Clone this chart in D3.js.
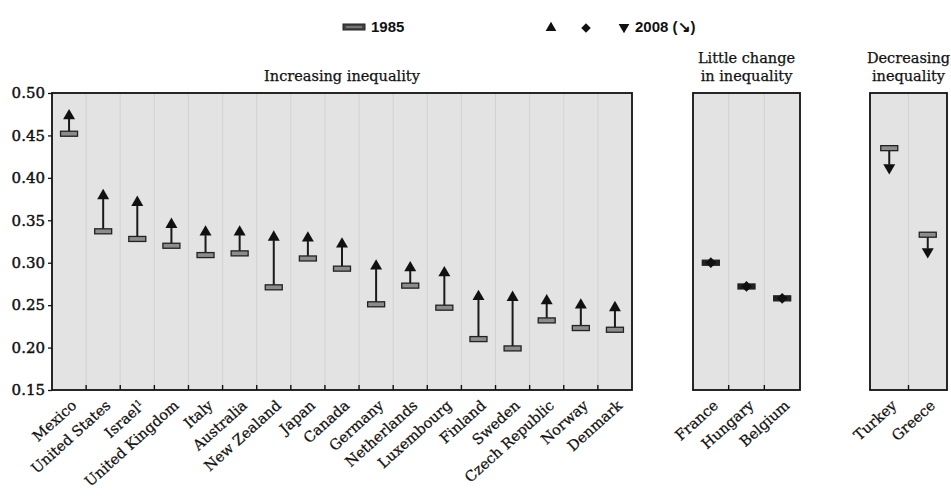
<!DOCTYPE html>
<html>
<head>
<meta charset="utf-8">
<script src="https://cdn.jsdelivr.net/npm/d3@7"></script>
<style>
  body { margin: 0; background: #fff; }
  svg text { font-family: "DejaVu Serif", serif; fill: #111; stroke: #111; stroke-width: 0.25px; }
</style>
</head>
<body>
<svg id="chart" width="951" height="498"></svg>
<script>
// Gini coefficients, mid-1980s and late 2000s
const increasingCountries = ["Mexico", "United States", "Israel", "United Kingdom", "Italy", "Australia",
  "New Zealand", "Japan", "Canada", "Germany", "Netherlands", "Luxembourg", "Finland", "Sweden",
  "Czech Republic", "Norway", "Denmark"];
const increasing1985 = [0.452, 0.337, 0.328, 0.320, 0.309, 0.311, 0.271, 0.305, 0.293, 0.251, 0.273,
  0.247, 0.210, 0.199, 0.232, 0.223, 0.221];
const increasing2008 = [0.473, 0.379, 0.371, 0.345, 0.336, 0.336, 0.330, 0.329, 0.322, 0.296, 0.294,
  0.288, 0.260, 0.259, 0.255, 0.250, 0.247];

const littleCountries = ["France", "Hungary", "Belgium"];
const little1985 = [0.300, 0.272, 0.258];
const little2008 = [0.300, 0.272, 0.258];

const decreasingCountries = ["Turkey", "Greece"];
const decreasing1985 = [0.435, 0.333];
const decreasing2008 = [0.412, 0.313];

const yTicks = [0.15, 0.20, 0.25, 0.30, 0.35, 0.40, 0.45, 0.50];

const svg = d3.select('#chart');
const y = d3.scaleLinear().domain([0.15, 0.50]).range([390, 93]);

const panels = [
  { title: ["Increasing inequality"], x0: 52, x1: 632, names: increasingCountries, v0: increasing1985, v1: increasing2008, kind: 'up', axis: true },
  { title: ["Little change", "in inequality"], x0: 693, x1: 800, names: littleCountries, v0: little1985, v1: little2008, kind: 'same' },
  { title: ["Decreasing", "inequality"], x0: 870, x1: 947, names: decreasingCountries, v0: decreasing1985, v1: decreasing2008, kind: 'down' }
];

const tri = d3.symbol().type(d3.symbolTriangle).size(62);
const dia = d3.symbol().type(d3.symbolSquare).size(58);

function drawBar(g, cx, cy, dark) {
  g.append('rect')
    .attr('x', cx - 8.5).attr('y', cy - 2.5)
    .attr('width', 17).attr('height', 5)
    .attr('fill', dark ? '#222' : '#8c8c8c')
    .attr('stroke', '#222').attr('stroke-width', 1.3);
}

panels.forEach(p => {
  const x = d3.scaleBand().domain(p.names).range([p.x0, p.x1]);
  const g = svg.append('g');

  // panel background (scanned paper grey)
  g.append('rect')
    .attr('x', p.x0).attr('y', y(0.50))
    .attr('width', p.x1 - p.x0).attr('height', y(0.15) - y(0.50))
    .attr('fill', '#e3e3e3');

  // faint vertical separators + bottom ticks between categories
  p.names.slice(1).forEach(n => {
    const tx = x(n);
    g.append('line')
      .attr('x1', tx).attr('x2', tx).attr('y1', y(0.50)).attr('y2', y(0.15))
      .attr('stroke', '#d2d2d2').attr('stroke-width', 1);
    g.append('line')
      .attr('x1', tx).attr('x2', tx).attr('y1', y(0.15)).attr('y2', y(0.15) - 5)
      .attr('stroke', '#111').attr('stroke-width', 1.4);
  });

  g.append('rect')
    .attr('x', p.x0).attr('y', y(0.50))
    .attr('width', p.x1 - p.x0).attr('height', y(0.15) - y(0.50))
    .attr('fill', 'none').attr('stroke', '#111').attr('stroke-width', 1.8);

  // title
  const cxTitle = (p.x0 + p.x1) / 2;
  p.title.forEach((t, i) => {
    g.append('text')
      .attr('x', cxTitle)
      .attr('y', y(0.50) - 12 - (p.title.length - 1 - i) * 18)
      .attr('text-anchor', 'middle')
      .style('font-size', '14.5px')
      .text(t);
  });

  // y axis on the main panel
  if (p.axis) {
    const yAxis = d3.axisLeft(y).tickValues(yTicks).tickFormat(d3.format('.2f')).tickSize(4).tickPadding(3);
    const ag = g.append('g').attr('transform', `translate(${p.x0},0)`).call(yAxis);
    ag.select('.domain').remove();
    ag.selectAll('line').attr('stroke', '#111').attr('stroke-width', 1.3);
    ag.selectAll('text').style('font-size', '15px').style('font-family', '"DejaVu Serif", serif')
      .attr('fill', '#111').style('stroke', '#111').style('stroke-width', '0.45px');
  }

  // marks
  p.names.forEach((n, i) => {
    const cx = x(n) + x.bandwidth() / 2;
    const y0 = y(p.v0[i]);
    const y1 = y(p.v1[i]);
    if (p.kind === 'same') {
      drawBar(g, cx, y0, true);
      g.append('path').attr('d', dia).attr('transform', `translate(${cx},${y1}) rotate(45)`).attr('fill', '#111');
    } else {
      const dir = p.kind === 'up' ? 1 : -1;
      g.append('line')
        .attr('x1', cx).attr('x2', cx)
        .attr('y1', y0).attr('y2', y1 + dir * 3)
        .attr('stroke', '#1a1a1a').attr('stroke-width', 2);
      g.append('path').attr('d', tri)
        .attr('transform', `translate(${cx},${y1}) rotate(${dir === 1 ? 0 : 180})`)
        .attr('fill', '#111');
      drawBar(g, cx, y0, false);
    }

    // rotated category label
    const lab = g.append('text')
      .attr('transform', `translate(${cx + 5},${y(0.15) + 13}) rotate(-42)`)
      .attr('text-anchor', 'end')
      .attr('dy', '0.35em')
      .style('font-size', '14.5px')
      .text(n);
    if (n === 'Israel') {
      lab.append('tspan').attr('baseline-shift', 'super').style('font-size', '9px').text('1');
    }
  });
});

// legend
const lg = svg.append('g').attr('transform', 'translate(0,27)');
lg.append('rect').attr('x', 343).attr('y', -3).attr('width', 22).attr('height', 6)
  .attr('fill', '#444').attr('stroke', '#222').attr('stroke-width', 1);
lg.append('line').attr('x1', 346).attr('x2', 362).attr('y1', 0).attr('y2', 0)
  .attr('stroke', '#aaa').attr('stroke-width', 1);
lg.append('text').attr('x', 371).attr('y', 5)
  .style('font-family', '"Liberation Sans", sans-serif').style('font-size', '15px').style('font-weight', 'bold')
  .style('stroke-width', 0).text('1985');
lg.append('path').attr('d', d3.symbol().type(d3.symbolTriangle).size(50)).attr('transform', 'translate(551,1)').attr('fill', '#111');
lg.append('path').attr('d', d3.symbol().type(d3.symbolSquare).size(45)).attr('transform', 'translate(586,1) rotate(45)').attr('fill', '#111');
lg.append('path').attr('d', d3.symbol().type(d3.symbolTriangle).size(50)).attr('transform', 'translate(624,0) rotate(180)').attr('fill', '#111');
lg.append('text').attr('x', 635).attr('y', 5)
  .style('font-family', '"Liberation Sans", sans-serif').style('font-size', '15px').style('font-weight', 'bold')
  .style('stroke-width', 0).text('2008 (↘)');
</script>
</body>
</html>
